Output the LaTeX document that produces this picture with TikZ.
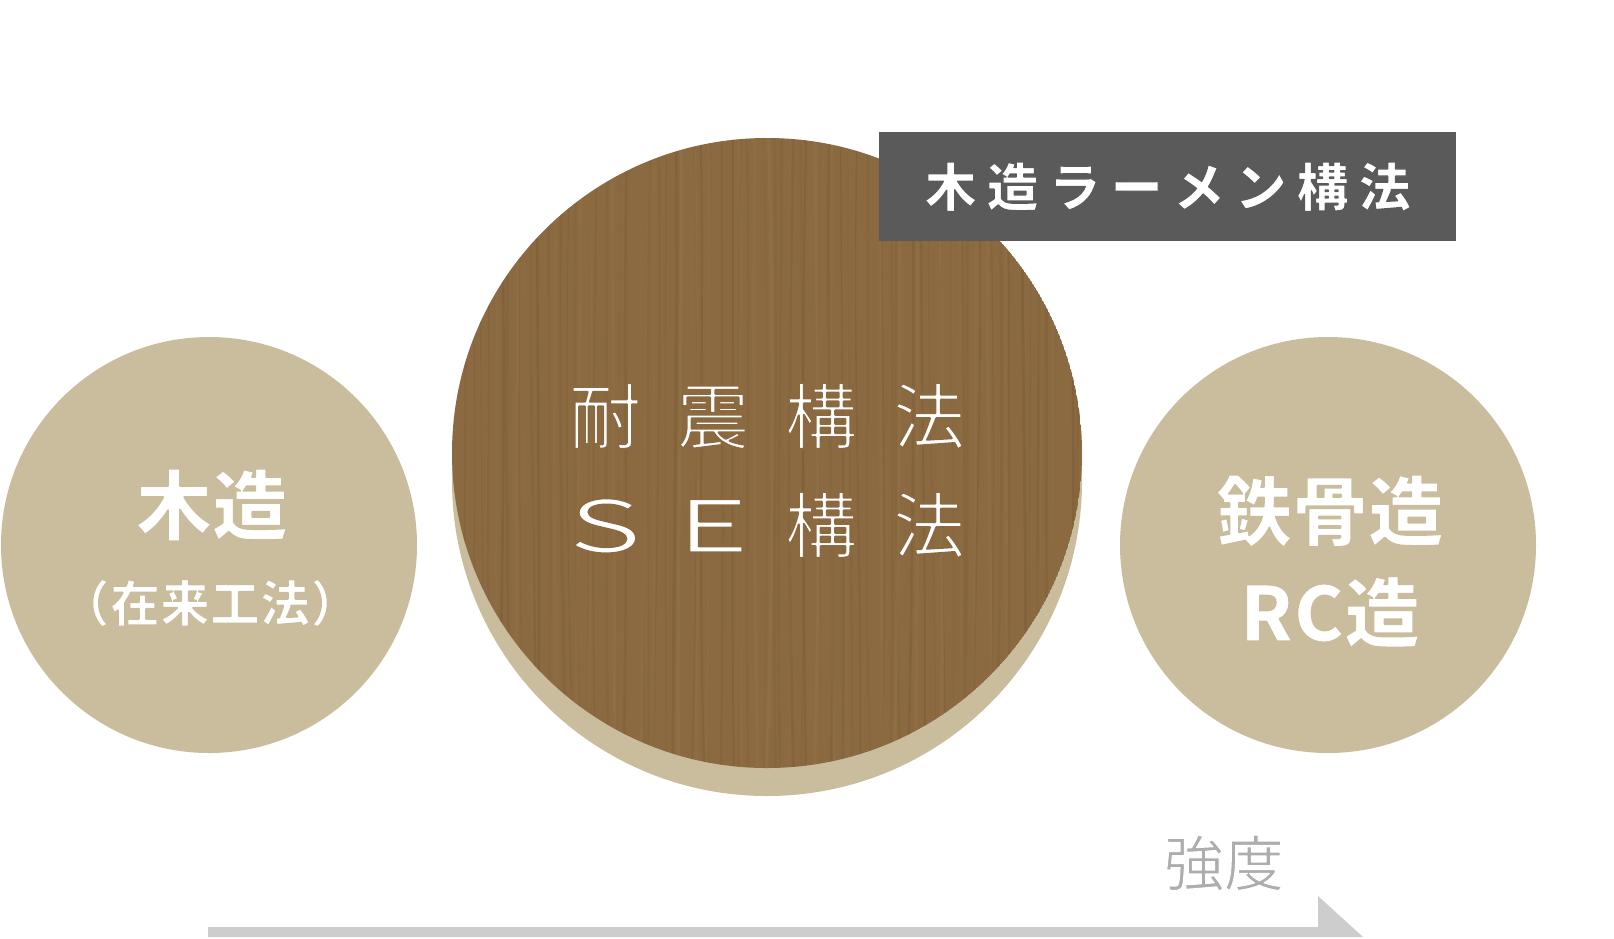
\documentclass[tikz,border=0pt]{standalone}
\usepackage{fontspec}
\setmainfont{Noto Sans CJK JP}
\definecolor{beige}{HTML}{C9BD9D}
\definecolor{wood}{HTML}{8B6A41}
\definecolor{wooddark}{HTML}{6E5230}
\definecolor{woodlight}{HTML}{A0804F}
\definecolor{boxgray}{HTML}{5A5A5A}
\definecolor{arrowgray}{HTML}{CDCDCD}
\definecolor{labelgray}{HTML}{ADADAD}
% thin glyphs by stroking their outlines in the background colour
\newcommand{\thinned}[3]{\special{pdf:literal direct #1 RG #2 w 1 j 2 Tr}#3\special{pdf:literal direct 0 Tr}}
\newcommand{\woodthin}[1]{\thinned{0.545 0.416 0.255}{2.0}{#1}}
\newcommand{\wideletter}[1]{\makebox[72pt]{\scalebox{1.5}[1]{\thinned{0.545 0.416 0.255}{1.6}{#1}}}}
\begin{document}
\begin{tikzpicture}[x=1pt,y=-1pt,
  sidecircle/.style={circle, fill=beige, minimum size=416pt, inner sep=0pt},
  boldtext/.style={text=white, font=\bfseries\fontsize{76}{80}\selectfont, inner sep=0pt, anchor=center},
  subtext/.style={text=white, font=\bfseries\fontsize{50}{56}\selectfont, inner sep=0pt, anchor=center},
  thintext/.style={text=white, font=\fontsize{72}{80}\selectfont, inner sep=0pt, anchor=center},
  tagbox/.style={fill=boxgray, text=white, font=\bfseries\fontsize{52}{56}\selectfont, inner sep=0pt, minimum width=577pt, minimum height=109pt, anchor=north west},
  axislabel/.style={text=labelgray, font=\fontsize{60}{64}\selectfont, inner sep=0pt, anchor=center}
]
\useasboundingbox (0,0) rectangle (1614,938);
\fill[white] (0,0) rectangle (1614,938);

% side circles
\node[sidecircle] (left) at (209,545) {};
\node[sidecircle] (right) at (1328,545) {};

% big wooden circle with beige shadow
\fill[beige] (767,481) circle[radius=315];
\begin{scope}
  \clip (767,453) circle[radius=315];
  \fill[wood] (767,453) circle[radius=315];
  \pgfmathsetseed{7}
  \foreach \i in {0,...,64}{
    \pgfmathsetmacro\xa{450+\i*10+4*rand}
    \pgfmathsetmacro\xb{\xa+7*rand}
    \pgfmathsetmacro\xc{\xa+7*rand}
    \pgfmathsetmacro\xd{\xa+5*rand}
    \pgfmathsetmacro\op{0.10+0.22*rnd}
    \pgfmathsetmacro\lw{0.8+2.2*rnd}
    \draw[draw=wooddark, line width=\lw pt, opacity=\op] (\xa,130) .. controls (\xb,350) and (\xc,560) .. (\xd,780);
  }
  \foreach \i in {0,...,30}{
    \pgfmathsetmacro\xa{455+\i*20+8*rand}
    \pgfmathsetmacro\xb{\xa+6*rand}
    \pgfmathsetmacro\xc{\xa+6*rand}
    \pgfmathsetmacro\xd{\xa+5*rand}
    \pgfmathsetmacro\op{0.08+0.15*rnd}
    \draw[draw=woodlight, line width=3pt, opacity=\op] (\xa,130) .. controls (\xb,350) and (\xc,560) .. (\xd,780);
  }
\end{scope}
\coordinate (big) at (767,453);

% texts in circles
\node[boldtext] (l1) at (212,505) {\thinned{0.788 0.741 0.616}{1.6}{木造}};
\node[subtext] (l2) at (210,603) {\thinned{0.788 0.741 0.616}{2}{（在来工法）}};
\node[boldtext] (r1) at (1330,511) {\thinned{0.788 0.741 0.616}{1.6}{鉄骨造}};
\node[boldtext] (r2) at (1330,612) {\thinned{0.788 0.741 0.616}{1.6}{RC造}};
\node[thintext] (c1) at (767,416) {\woodthin{耐\hspace{36pt}震\hspace{36pt}構\hspace{36pt}法}};
\node[thintext] (c2) at (767,525) {\wideletter{Ｓ}\hspace{36pt}\wideletter{Ｅ}\hspace{36pt}\woodthin{構\hspace{36pt}法}};

% tag box
\node[tagbox] (tag) at (879,132) {\thinned{0.353 0.353 0.353}{1.2}{木\hspace{10pt}造\hspace{10pt}ラ\hspace{10pt}ー\hspace{10pt}メ\hspace{10pt}ン\hspace{10pt}構\hspace{10pt}法}};

% strength axis
\coordinate (a0) at (208,927);
\coordinate (a1) at (1318,927);
\coordinate (a2) at (1318,896);
\coordinate (a3) at (1363,937);
\coordinate (a4) at (208,937);
\fill[arrowgray] (a0) -- (a1) -- (a2) -- (a3) -- (a4) -- cycle;
\node[axislabel] (str) at (1224,863) {\thinned{1 1 1}{1.0}{強度}};
\end{tikzpicture}
\end{document}
